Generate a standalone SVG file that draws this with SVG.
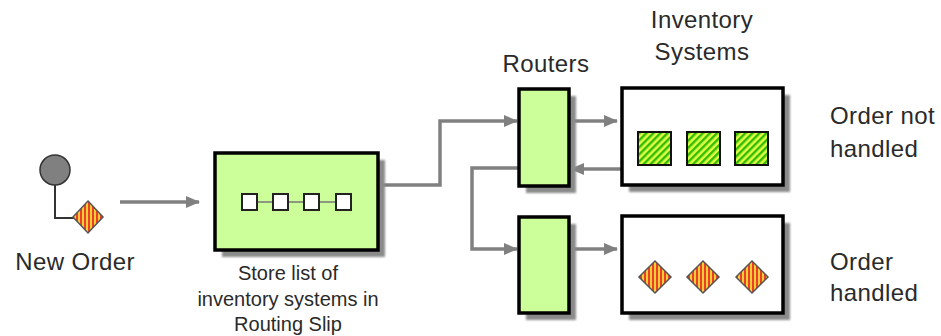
<svg xmlns="http://www.w3.org/2000/svg" width="941" height="336" viewBox="0 0 941 336">
<defs>
<pattern id="orange" patternUnits="userSpaceOnUse" width="4" height="4">
<rect width="4" height="4" fill="#ffcc33"/>
<rect width="2" height="4" fill="#e8402a"/>
</pattern>
<pattern id="green" patternUnits="userSpaceOnUse" width="5" height="5" patternTransform="rotate(45)">
<rect width="5" height="5" fill="#ddff44"/>
<rect width="2.4" height="5" fill="#33bb00"/>
</pattern>
<filter id="blur" x="-10%" y="-10%" width="120%" height="120%"><feGaussianBlur stdDeviation="1"/></filter>
<marker id="arr" viewBox="0 0 14 12" refX="13" refY="6" markerWidth="14" markerHeight="12" markerUnits="userSpaceOnUse" orient="auto">
<path d="M0,0 L14,6 L0,12 Z" fill="#808080"/>
</marker>
</defs>
<style>
.txt{font-family:"Liberation Sans",Arial,sans-serif;font-size:24px;letter-spacing:0.4px;fill:#2a2a2a}
.small{font-size:20px;letter-spacing:0}
.box{fill:#ccff99;stroke:#000;stroke-width:3.5}
.wbox{fill:#fff;stroke:#000;stroke-width:3.5}
.shadow{fill:#8a8a8a;filter:url(#blur)}
.conn{fill:none;stroke:#808080;stroke-width:3.5}
.dia{fill:url(#orange);stroke:#555;stroke-width:1.5}
.gsq{fill:url(#green);stroke:#111;stroke-width:2}
</style>
<rect width="941" height="336" fill="#fff"/>

<g id="connectors">
<path class="conn" d="M120,202 H199" marker-end="url(#arr)"/>
<path class="conn" d="M380,185 H440 V121 H517" marker-end="url(#arr)"/>
<path class="conn" d="M570,121 H617" marker-end="url(#arr)"/>
<path class="conn" d="M621,169 H571" marker-end="url(#arr)"/>
<path class="conn" d="M518,168 H472 V249 H517" marker-end="url(#arr)"/>
<path class="conn" d="M570,249 H617" marker-end="url(#arr)"/>
</g>

<g id="new-order">
<circle cx="55" cy="170" r="15" fill="#808080" stroke="#333" stroke-width="1.5"/>
<path d="M55,185 V218 H74" fill="none" stroke="#333" stroke-width="2"/>
<path class="dia" d="M88,201 L103,217 L88,233 L73,217 Z"/>
<text class="txt" x="75" y="270" text-anchor="middle">New Order</text>
</g>

<g id="routing-slip">
<rect class="shadow" x="222" y="160" width="163" height="97"/>
<rect class="box" x="215" y="153" width="163" height="97"/>
<path d="M257,202 H273 M288,202 H304 M319,202 H336" stroke="#777" stroke-width="1.5"/>
<rect x="242" y="194" width="15" height="16" fill="#fff" stroke="#222" stroke-width="2"/>
<rect x="273" y="194" width="15" height="16" fill="#fff" stroke="#222" stroke-width="2"/>
<rect x="304" y="194" width="15" height="16" fill="#fff" stroke="#222" stroke-width="2"/>
<rect x="336" y="194" width="15" height="16" fill="#fff" stroke="#222" stroke-width="2"/>
<text class="txt small" x="288" y="280" text-anchor="middle">Store list of</text>
<text class="txt small" x="288" y="306" text-anchor="middle">inventory systems in</text>
<text class="txt small" x="288" y="331" text-anchor="middle">Routing Slip</text>
</g>

<g id="router-1">
<rect class="shadow" x="526" y="96" width="50" height="97"/>
<rect class="box" x="519" y="89" width="50" height="97"/>
<text class="txt" x="546" y="72" text-anchor="middle">Routers</text>
</g>

<g id="router-2">
<rect class="shadow" x="526" y="224" width="50" height="96"/>
<rect class="box" x="519" y="217" width="50" height="96"/>
</g>

<g id="inventory-1">
<rect class="shadow" x="629" y="95" width="161" height="97"/>
<rect class="wbox" x="622" y="88" width="161" height="97"/>
<rect class="gsq" x="638" y="132" width="33" height="33"/>
<rect class="gsq" x="687" y="132" width="33" height="33"/>
<rect class="gsq" x="735" y="132" width="33" height="33"/>
<text class="txt" x="702" y="28" text-anchor="middle">Inventory</text>
<text class="txt" x="702" y="60" text-anchor="middle">Systems</text>
<text class="txt" x="830" y="124">Order not</text>
<text class="txt" x="830" y="157">handled</text>
</g>

<g id="inventory-2">
<rect class="shadow" x="629" y="223" width="161" height="97"/>
<rect class="wbox" x="622" y="216" width="161" height="97"/>
<path class="dia" d="M655,261 L671,277 L655,293 L639,277 Z"/>
<path class="dia" d="M703,261 L719,277 L703,293 L687,277 Z"/>
<path class="dia" d="M752,261 L768,277 L752,293 L736,277 Z"/>
<text class="txt" x="830" y="270">Order</text>
<text class="txt" x="830" y="301">handled</text>
</g>
</svg>
